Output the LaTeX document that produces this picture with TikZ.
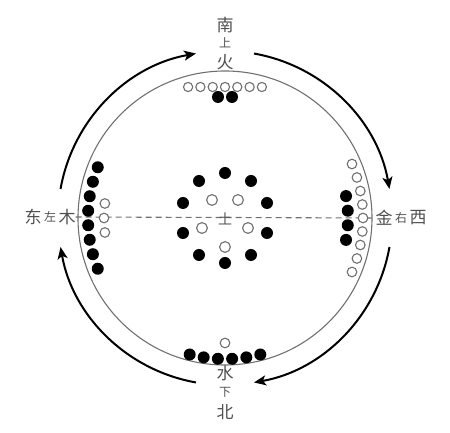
\documentclass[tikz,border=0pt]{standalone}
\usepackage{fontspec}
\newfontfamily\cjk{Noto Sans CJK SC}
\usetikzlibrary{arrows.meta}
\definecolor{txtgray}{HTML}{505050}
\definecolor{ringgray}{HTML}{707070}
\begin{document}
\begin{tikzpicture}[x=1pt,y=1pt,
  big/.style={text=txtgray, font=\cjk\fontsize{17}{17}\selectfont, inner sep=0pt},
  small/.style={text=txtgray, font=\cjk\fontsize{12}{12}\selectfont, inner sep=0pt},
  mid/.style={text=txtgray, font=\cjk\fontsize{14}{14}\selectfont, inner sep=0pt},
  ring/.style={draw=ringgray, line width=1.1pt},
  wht/.style={draw=ringgray, fill=white, line width=1.1pt},
  flow/.style={line width=2pt, -{Stealth[length=12pt,width=10pt,inset=3pt]}},
]
\useasboundingbox (0,0) rectangle (450,433);
\coordinate (C) at (225,215);
% labels
\node[big]   (south)  at (225,408) {南};
\node[small] (up)     at (225,390) {上};
\node[big]   (fire)   at (225,371) {火};
\node[big]   (water)  at (225,60)  {水};
\node[small] (down)   at (225,41)  {下};
\node[big]   (north)  at (225,21)  {北};
\node[big]   (east)   at (33,216)  {东};
\node[small] (left)   at (50,216)  {左};
\node[big]   (wood)   at (67,216)  {木};
\node[big]   (metal)  at (384,215) {金};
\node[small] (right)  at (401,215) {右};
\node[big]   (west)   at (418,215) {西};
% main circle and axis
\draw[ring] (C) circle[radius=147];
\draw[ring, dash pattern=on 6pt off 4pt] (wood.east) -- (metal.west);
\node[mid] (earth) at (225,214) {土};
% flow arrows
\draw[flow] (C) ++(170:167) arc[start angle=170, end angle=100, radius=167];
\draw[flow] (C) ++(80:167)  arc[start angle=80,  end angle=10,  radius=167];
\draw[flow] (C) ++(-10:167) arc[start angle=-10, end angle=-80, radius=167];
\draw[flow] (C) ++(-100:167) arc[start angle=-100, end angle=-170, radius=167];
% top (fire): 7 open, 2 filled
\foreach \k in {-3,...,3} \draw[wht] (225+12.3*\k,346) circle[radius=4.6];
\fill (218,336) circle[radius=6];
\fill (232,336) circle[radius=6];
% bottom (water): 6 filled, 1 open
\foreach \a in {-14.5,-8.7,-2.9,2.9,8.7,14.5} \fill (C) ++(-90+\a:141) circle[radius=6];
\draw[wht] (225,90) circle[radius=4.8];
% left (wood): 8 filled, 3 open
\foreach \a in {-21.74,-15.33,-9.14,-3.03,3.03,9.14,15.33,21.74} \fill (C) ++(180+\a:137) circle[radius=6];
\foreach \a in {-6.88,0,6.88} \draw[wht] (C) ++(180+\a:121) circle[radius=4.8];
% right (metal): 9 open, 4 filled
\foreach \a in {-23.03,-17.07,-11.28,-5.61,0,5.61,11.28,17.07,23.03} \draw[wht] (C) ++(\a:138) circle[radius=4.8];
\foreach \a in {-10.26,-3.4,3.4,10.26} \fill (C) ++(\a:123) circle[radius=6];
% centre (earth): 10 filled, 5 open
\foreach \p in {(225,260),(199,252),(251,252),(183,230),(267,230),(183,200),(267,200),(199,178),(251,178),(225,170)}
  \fill \p circle[radius=6];
\foreach \p in {(212,233),(238,233),(202,205),(248,205),(225,186)}
  \draw[wht] \p circle[radius=5.4];
\end{tikzpicture}
\end{document}
